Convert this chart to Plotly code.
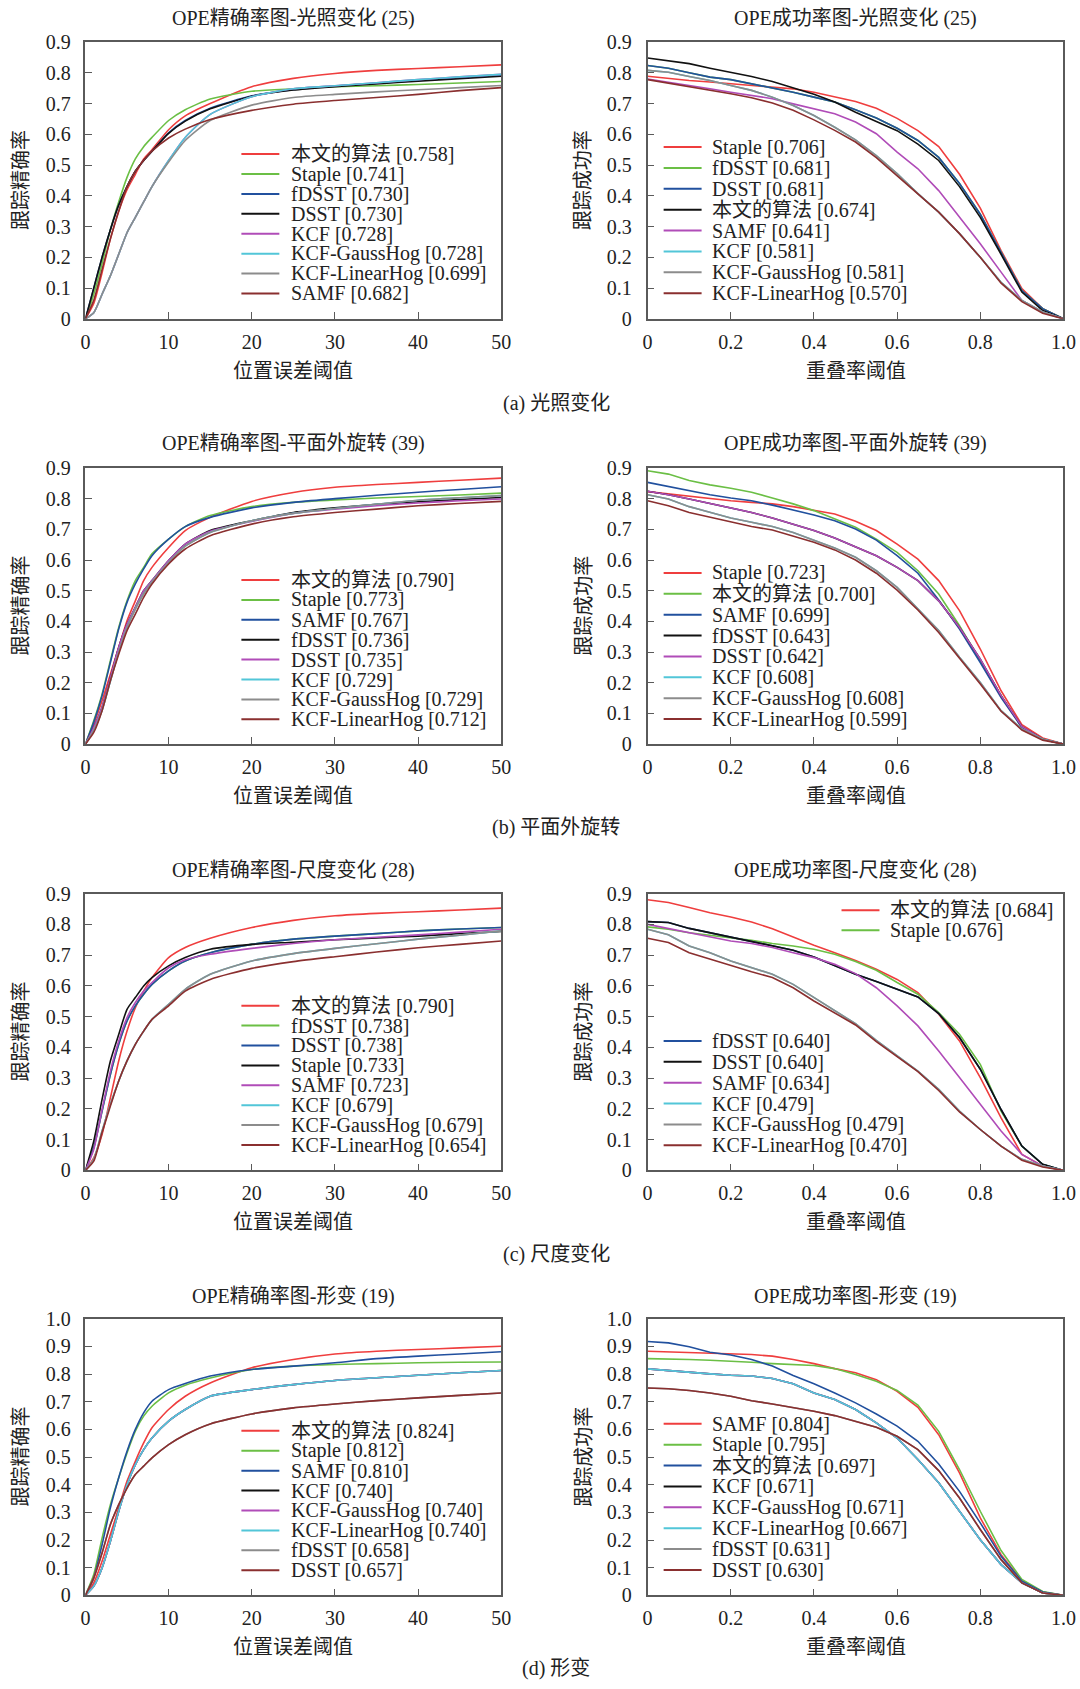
import plotly.graph_objects as go

# ---------------------------------------------------------------- data
# Location-error thresholds (precision plots) and overlap thresholds (success plots)
X_PRE = [0, 1, 2, 3, 4, 5, 6, 7, 8, 10, 12, 15, 20, 25, 30, 35, 40, 45, 50]
X_SUC = [0, 0.05, 0.1, 0.15, 0.2, 0.25, 0.3, 0.35, 0.4, 0.45, 0.5,
         0.55, 0.6, 0.65, 0.7, 0.75, 0.8, 0.85, 0.9, 0.95, 1.0]

# (a) illumination variation - precision
IV_PRE_LABELS = ["本文的算法", "Staple", "fDSST", "DSST", "KCF", "KCF-GaussHog", "KCF-LinearHog", "SAMF"]
IV_PRE_SCORES = ["0.758", "0.741", "0.730", "0.730", "0.728", "0.728", "0.699", "0.682"]
IV_PRE_KCF = [0, 0.02, 0.08, 0.14, 0.21, 0.28, 0.33, 0.38, 0.43, 0.515, 0.59, 0.665, 0.722, 0.748, 0.758, 0.768, 0.778, 0.787, 0.795]
IV_PRE_VALUES = [
    [0, 0.05, 0.15, 0.26, 0.35, 0.42, 0.47, 0.52, 0.55, 0.615, 0.66, 0.70, 0.755, 0.782, 0.798, 0.808, 0.814, 0.82, 0.826],
    [0, 0.08, 0.18, 0.29, 0.38, 0.46, 0.52, 0.56, 0.59, 0.645, 0.68, 0.715, 0.74, 0.748, 0.755, 0.758, 0.762, 0.767, 0.772],
    [0, 0.10, 0.20, 0.29, 0.37, 0.43, 0.48, 0.515, 0.545, 0.605, 0.645, 0.685, 0.725, 0.745, 0.757, 0.766, 0.775, 0.784, 0.792],
    [0, 0.10, 0.20, 0.29, 0.37, 0.43, 0.48, 0.515, 0.545, 0.603, 0.643, 0.683, 0.724, 0.744, 0.755, 0.764, 0.773, 0.781, 0.789],
    IV_PRE_KCF,
    IV_PRE_KCF,
    [0, 0.02, 0.08, 0.14, 0.21, 0.28, 0.33, 0.38, 0.43, 0.51, 0.58, 0.645, 0.695, 0.72, 0.73, 0.738, 0.745, 0.752, 0.759],
    [0, 0.06, 0.16, 0.26, 0.35, 0.43, 0.48, 0.515, 0.545, 0.588, 0.617, 0.648, 0.678, 0.698, 0.71, 0.72, 0.73, 0.742, 0.752],
]

# (a) illumination variation - success
IV_SUC_LABELS = ["Staple", "fDSST", "DSST", "本文的算法", "SAMF", "KCF", "KCF-GaussHog", "KCF-LinearHog"]
IV_SUC_SCORES = ["0.706", "0.681", "0.681", "0.674", "0.641", "0.581", "0.581", "0.570"]
IV_SUC_DSST = [0.824, 0.815, 0.80, 0.786, 0.778, 0.765, 0.751, 0.737, 0.721, 0.705, 0.68, 0.653, 0.62, 0.58, 0.525, 0.44, 0.34, 0.217, 0.092, 0.033, 0]
IV_SUC_KCF = [0.808, 0.802, 0.788, 0.775, 0.759, 0.743, 0.721, 0.694, 0.661, 0.623, 0.582, 0.531, 0.472, 0.407, 0.347, 0.277, 0.2, 0.119, 0.06, 0.022, 0]
IV_SUC_VALUES = [
    [0.789, 0.781, 0.775, 0.77, 0.765, 0.759, 0.754, 0.748, 0.737, 0.723, 0.707, 0.685, 0.652, 0.612, 0.56, 0.47, 0.36, 0.222, 0.098, 0.033, 0],
    IV_SUC_DSST,
    IV_SUC_DSST,
    [0.848, 0.84, 0.83, 0.815, 0.802, 0.788, 0.772, 0.751, 0.73, 0.705, 0.672, 0.642, 0.612, 0.568, 0.515, 0.43, 0.33, 0.21, 0.087, 0.027, 0],
    [0.78, 0.77, 0.759, 0.748, 0.737, 0.727, 0.716, 0.699, 0.683, 0.667, 0.64, 0.602, 0.542, 0.488, 0.417, 0.331, 0.244, 0.152, 0.06, 0.022, 0],
    IV_SUC_KCF,
    IV_SUC_KCF,
    [0.778, 0.767, 0.754, 0.743, 0.732, 0.719, 0.702, 0.678, 0.647, 0.613, 0.575, 0.524, 0.466, 0.407, 0.347, 0.277, 0.2, 0.116, 0.056, 0.018, 0],
]

# (b) out-of-plane rotation - precision
OPR_PRE_LABELS = ["本文的算法", "Staple", "SAMF", "fDSST", "DSST", "KCF", "KCF-GaussHog", "KCF-LinearHog"]
OPR_PRE_SCORES = ["0.790", "0.773", "0.767", "0.736", "0.735", "0.729", "0.729", "0.712"]
OPR_PRE_KCF = [0, 0.045, 0.11, 0.205, 0.30, 0.38, 0.44, 0.49, 0.528, 0.592, 0.645, 0.69, 0.728, 0.752, 0.768, 0.782, 0.795, 0.803, 0.81]
OPR_PRE_VALUES = [
    [0, 0.065, 0.141, 0.228, 0.315, 0.402, 0.467, 0.533, 0.576, 0.641, 0.696, 0.739, 0.791, 0.82, 0.837, 0.846, 0.853, 0.86, 0.867],
    [0, 0.076, 0.163, 0.272, 0.38, 0.467, 0.533, 0.576, 0.62, 0.668, 0.709, 0.745, 0.774, 0.788, 0.796, 0.802, 0.807, 0.812, 0.818],
    [0, 0.071, 0.158, 0.266, 0.375, 0.462, 0.522, 0.571, 0.614, 0.668, 0.709, 0.739, 0.77, 0.788, 0.80, 0.811, 0.821, 0.83, 0.839],
    [0, 0.054, 0.12, 0.217, 0.315, 0.391, 0.446, 0.50, 0.533, 0.598, 0.652, 0.696, 0.728, 0.755, 0.77, 0.782, 0.79, 0.797, 0.804],
    [0, 0.054, 0.12, 0.217, 0.315, 0.391, 0.446, 0.50, 0.533, 0.598, 0.652, 0.694, 0.726, 0.752, 0.766, 0.777, 0.786, 0.793, 0.799],
    OPR_PRE_KCF,
    OPR_PRE_KCF,
    [0, 0.038, 0.109, 0.207, 0.293, 0.37, 0.424, 0.478, 0.522, 0.587, 0.636, 0.679, 0.717, 0.741, 0.755, 0.766, 0.777, 0.784, 0.791],
]

# (b) out-of-plane rotation - success
OPR_SUC_LABELS = ["Staple", "本文的算法", "SAMF", "fDSST", "DSST", "KCF", "KCF-GaussHog", "KCF-LinearHog"]
OPR_SUC_SCORES = ["0.723", "0.700", "0.699", "0.643", "0.642", "0.608", "0.608", "0.599"]
OPR_SUC_DSST = [0.824, 0.813, 0.799, 0.785, 0.77, 0.755, 0.737, 0.717, 0.696, 0.672, 0.643, 0.614, 0.576, 0.533, 0.467, 0.38, 0.277, 0.158, 0.057, 0.016, 0]
OPR_SUC_KCF = [0.813, 0.799, 0.774, 0.755, 0.737, 0.723, 0.709, 0.69, 0.665, 0.639, 0.609, 0.565, 0.511, 0.44, 0.37, 0.283, 0.201, 0.109, 0.049, 0.016, 0]
OPR_SUC_VALUES = [
    [0.823, 0.815, 0.807, 0.799, 0.793, 0.788, 0.783, 0.774, 0.763, 0.75, 0.726, 0.696, 0.652, 0.603, 0.533, 0.435, 0.31, 0.174, 0.063, 0.02, 0],
    [0.891, 0.88, 0.859, 0.845, 0.834, 0.821, 0.802, 0.783, 0.761, 0.734, 0.707, 0.668, 0.625, 0.565, 0.489, 0.386, 0.272, 0.158, 0.054, 0.016, 0],
    [0.853, 0.839, 0.826, 0.813, 0.802, 0.793, 0.779, 0.763, 0.747, 0.728, 0.701, 0.665, 0.614, 0.557, 0.47, 0.375, 0.266, 0.152, 0.054, 0.016, 0],
    OPR_SUC_DSST,
    OPR_SUC_DSST,
    OPR_SUC_KCF,
    OPR_SUC_KCF,
    [0.793, 0.777, 0.755, 0.739, 0.723, 0.709, 0.698, 0.679, 0.658, 0.633, 0.60, 0.557, 0.502, 0.437, 0.364, 0.28, 0.196, 0.107, 0.046, 0.013, 0],
]

# (c) scale variation - precision
SV_PRE_LABELS = ["本文的算法", "fDSST", "DSST", "Staple", "SAMF", "KCF", "KCF-GaussHog", "KCF-LinearHog"]
SV_PRE_SCORES = ["0.790", "0.738", "0.738", "0.733", "0.723", "0.679", "0.679", "0.654"]
SV_PRE_DSST = [0, 0.074, 0.193, 0.312, 0.41, 0.486, 0.535, 0.573, 0.605, 0.649, 0.681, 0.708, 0.735, 0.752, 0.762, 0.77, 0.779, 0.785, 0.79]
SV_PRE_KCF = [0, 0.036, 0.128, 0.215, 0.291, 0.356, 0.41, 0.453, 0.491, 0.54, 0.589, 0.638, 0.681, 0.705, 0.722, 0.737, 0.752, 0.765, 0.779]
SV_PRE_VALUES = [
    [0, 0.041, 0.117, 0.236, 0.356, 0.453, 0.529, 0.583, 0.627, 0.692, 0.725, 0.755, 0.79, 0.813, 0.828, 0.836, 0.841, 0.847, 0.853],
    SV_PRE_DSST,
    SV_PRE_DSST,
    [0, 0.095, 0.231, 0.356, 0.442, 0.524, 0.562, 0.60, 0.627, 0.665, 0.692, 0.719, 0.735, 0.742, 0.75, 0.756, 0.762, 0.77, 0.777],
    [0, 0.068, 0.198, 0.323, 0.421, 0.497, 0.546, 0.583, 0.611, 0.659, 0.685, 0.703, 0.722, 0.738, 0.75, 0.758, 0.766, 0.775, 0.784],
    SV_PRE_KCF,
    SV_PRE_KCF,
    [0, 0.03, 0.123, 0.209, 0.291, 0.356, 0.41, 0.453, 0.491, 0.535, 0.583, 0.621, 0.657, 0.679, 0.695, 0.71, 0.724, 0.735, 0.746],
]

# (c) scale variation - success
SV_SUC_LABELS = ["本文的算法", "Staple", "fDSST", "DSST", "SAMF", "KCF", "KCF-GaussHog", "KCF-LinearHog"]
SV_SUC_SCORES = ["0.684", "0.676", "0.640", "0.640", "0.634", "0.479", "0.479", "0.470"]
SV_SUC_DSST = [0.809, 0.806, 0.787, 0.773, 0.759, 0.746, 0.732, 0.716, 0.694, 0.665, 0.638, 0.614, 0.589, 0.564, 0.51, 0.432, 0.329, 0.198, 0.079, 0.02, 0]
SV_SUC_KCF = [0.784, 0.766, 0.73, 0.708, 0.681, 0.659, 0.638, 0.605, 0.562, 0.521, 0.477, 0.423, 0.372, 0.323, 0.264, 0.193, 0.133, 0.079, 0.036, 0.014, 0]
SV_SUC_VALUES = [
    [0.88, 0.871, 0.855, 0.838, 0.824, 0.808, 0.786, 0.759, 0.732, 0.708, 0.683, 0.654, 0.621, 0.578, 0.508, 0.421, 0.302, 0.171, 0.052, 0.014, 0],
    [0.792, 0.784, 0.773, 0.765, 0.755, 0.748, 0.738, 0.73, 0.719, 0.703, 0.679, 0.651, 0.611, 0.573, 0.513, 0.443, 0.345, 0.193, 0.079, 0.02, 0],
    SV_SUC_DSST,
    SV_SUC_DSST,
    [0.80, 0.787, 0.773, 0.759, 0.746, 0.738, 0.725, 0.708, 0.692, 0.67, 0.64, 0.594, 0.535, 0.47, 0.388, 0.302, 0.215, 0.128, 0.052, 0.014, 0],
    SV_SUC_KCF,
    SV_SUC_KCF,
    [0.755, 0.741, 0.708, 0.687, 0.665, 0.646, 0.627, 0.594, 0.551, 0.513, 0.473, 0.419, 0.369, 0.321, 0.26, 0.19, 0.133, 0.079, 0.033, 0.011, 0],
]

# (d) deformation - precision
DEF_PRE_LABELS = ["本文的算法", "Staple", "SAMF", "KCF", "KCF-GaussHog", "KCF-LinearHog", "fDSST", "DSST"]
DEF_PRE_SCORES = ["0.824", "0.812", "0.810", "0.740", "0.740", "0.740", "0.658", "0.657"]
DEF_PRE_KCF = [0, 0.033, 0.099, 0.195, 0.304, 0.40, 0.473, 0.527, 0.569, 0.63, 0.672, 0.72, 0.744, 0.762, 0.777, 0.787, 0.796, 0.805, 0.813]
DEF_PRE_DSST = [0, 0.063, 0.153, 0.256, 0.328, 0.388, 0.437, 0.467, 0.497, 0.545, 0.581, 0.62, 0.656, 0.678, 0.692, 0.704, 0.714, 0.723, 0.732]
DEF_PRE_VALUES = [
    [0, 0.045, 0.123, 0.22, 0.316, 0.413, 0.485, 0.551, 0.606, 0.672, 0.72, 0.768, 0.823, 0.853, 0.873, 0.883, 0.889, 0.895, 0.901],
    [0, 0.075, 0.207, 0.328, 0.425, 0.515, 0.594, 0.648, 0.684, 0.732, 0.76, 0.786, 0.817, 0.829, 0.835, 0.838, 0.841, 0.843, 0.844],
    [0, 0.063, 0.183, 0.316, 0.425, 0.521, 0.60, 0.66, 0.702, 0.744, 0.766, 0.793, 0.817, 0.829, 0.841, 0.856, 0.865, 0.873, 0.881],
    DEF_PRE_KCF,
    DEF_PRE_KCF,
    DEF_PRE_KCF,
    DEF_PRE_DSST,
    DEF_PRE_DSST,
]

# (d) deformation - success
DEF_SUC_LABELS = ["SAMF", "Staple", "本文的算法", "KCF", "KCF-GaussHog", "KCF-LinearHog", "fDSST", "DSST"]
DEF_SUC_SCORES = ["0.804", "0.795", "0.697", "0.671", "0.671", "0.667", "0.631", "0.630"]
DEF_SUC_KCF = [0.819, 0.813, 0.805, 0.801, 0.796, 0.793, 0.784, 0.765, 0.732, 0.708, 0.672, 0.624, 0.569, 0.491, 0.407, 0.304, 0.201, 0.111, 0.045, 0.008, 0]
DEF_SUC_DSST = [0.75, 0.747, 0.741, 0.732, 0.72, 0.704, 0.692, 0.68, 0.666, 0.65, 0.63, 0.608, 0.575, 0.527, 0.451, 0.352, 0.238, 0.129, 0.045, 0.008, 0]
DEF_SUC_VALUES = [
    [0.883, 0.881, 0.877, 0.875, 0.874, 0.871, 0.865, 0.853, 0.838, 0.82, 0.805, 0.78, 0.738, 0.68, 0.581, 0.443, 0.28, 0.147, 0.053, 0.012, 0],
    [0.856, 0.855, 0.853, 0.85, 0.847, 0.843, 0.838, 0.835, 0.831, 0.82, 0.799, 0.774, 0.741, 0.688, 0.593, 0.455, 0.304, 0.162, 0.057, 0.014, 0],
    [0.918, 0.913, 0.899, 0.879, 0.869, 0.853, 0.829, 0.795, 0.765, 0.732, 0.696, 0.656, 0.612, 0.557, 0.475, 0.376, 0.262, 0.141, 0.051, 0.012, 0],
    DEF_SUC_KCF,
    DEF_SUC_KCF,
    DEF_SUC_KCF,
    DEF_SUC_DSST,
    DEF_SUC_DSST,
]

TITLES = [
    "OPE精确率图-光照变化 (25)", "OPE成功率图-光照变化 (25)",
    "OPE精确率图-平面外旋转 (39)", "OPE成功率图-平面外旋转 (39)",
    "OPE精确率图-尺度变化 (28)", "OPE成功率图-尺度变化 (28)",
    "OPE精确率图-形变 (19)", "OPE成功率图-形变 (19)",
]
CAPTIONS = ["(a) 光照变化", "(b) 平面外旋转", "(c) 尺度变化", "(d) 形变"]
PRE_XTITLE, PRE_YTITLE = "位置误差阈值", "跟踪精确率"
SUC_XTITLE, SUC_YTITLE = "重叠率阈值", "跟踪成功率"

PRE_XTICKS = [0, 10, 20, 30, 40, 50]
SUC_XTICKS = [0, 0.2, 0.4, 0.6, 0.8, 1.0]
SUC_XTICKTEXT = ["0", "0.2", "0.4", "0.6", "0.8", "1.0"]
Y9_TICKS = [0, 0.1, 0.2, 0.3, 0.4, 0.5, 0.6, 0.7, 0.8, 0.9]
Y9_TICKTEXT = ["0", "0.1", "0.2", "0.3", "0.4", "0.5", "0.6", "0.7", "0.8", "0.9"]
Y10_TICKS = Y9_TICKS + [1.0]
Y10_TICKTEXT = Y9_TICKTEXT + ["1.0"]

# line colours, in legend order
COLORS = ["#ef3e3e", "#6bbf45", "#21509e", "#111111", "#b04cb8", "#52c6d8", "#8c8c8c", "#8a2f2f"]

# ---------------------------------------------------------------- layout
W, H = 1080, 1689
FONT = "Liberation Serif, 'Noto Sans CJK SC', serif"
FS = 20
TXT = "#222222"
FRAME = "#5a5a5a"

# plot boxes in figure pixels
COL_PX = [(81.8, 504.7), (653.5, 1076.4)]
ROW_PX = [(31.5, 311.9), (463.0, 742.8), (894.3, 1174.7), (1325.1, 1605.2)]
TITLE_Y = [7.8, 438.4, 871.3, 1302.1]
CAPTION_Y = [397.8, 827.6, 1259.5, 1679.0]
CAPTION_X = 560.5
XTITLE_GAP = 52.7
YTITLE_GAP = 65.0


def fx(px):
    return px / W


def fy(py):
    return 1 - py / H


panels = [
    (X_PRE, IV_PRE_VALUES, IV_PRE_LABELS, IV_PRE_SCORES),
    (X_SUC, IV_SUC_VALUES, IV_SUC_LABELS, IV_SUC_SCORES),
    (X_PRE, OPR_PRE_VALUES, OPR_PRE_LABELS, OPR_PRE_SCORES),
    (X_SUC, OPR_SUC_VALUES, OPR_SUC_LABELS, OPR_SUC_SCORES),
    (X_PRE, SV_PRE_VALUES, SV_PRE_LABELS, SV_PRE_SCORES),
    (X_SUC, SV_SUC_VALUES, SV_SUC_LABELS, SV_SUC_SCORES),
    (X_PRE, DEF_PRE_VALUES, DEF_PRE_LABELS, DEF_PRE_SCORES),
    (X_SUC, DEF_SUC_VALUES, DEF_SUC_LABELS, DEF_SUC_SCORES),
]

# legend blocks: (line x0, line x1, text x, first row y, row step, item indices), px relative to plot box
LEGEND_PRE = [(158.6, 197.2, 207.4, 113.5, 20.17, range(8))]
LEGEND_SUC = [(16.3, 54.9, 63.0, 106.4, 21.14, range(8))]
LEGEND_SV_SUC = [(197.2, 235.8, 244.0, 16.8, 20.3, range(2)),
                 (16.3, 54.9, 63.0, 149.3, 21.14, range(2, 8))]

fig = go.Figure()
shapes, annotations = [], []

for k, (xs, series, labels, scores) in enumerate(panels):
    row, col = divmod(k, 2)
    x0, x1 = COL_PX[col]
    y0, y1 = ROW_PX[row]
    ax = "" if k == 0 else str(k + 1)
    is_pre = col == 0
    ymax = 1.0 if row == 3 else 0.9

    for i, ys in enumerate(series):
        fig.add_trace(go.Scatter(
            x=xs, y=ys, mode="lines", name=labels[i], showlegend=False,
            xaxis="x" + ax, yaxis="y" + ax,
            line=dict(color=COLORS[i], width=1.6,
                      shape="spline" if is_pre else "linear", smoothing=0.6),
            hoverinfo="skip",
        ))

    common = dict(showline=True, mirror=True, linecolor=FRAME, linewidth=1.5,
                  ticks="inside", ticklen=7, tickwidth=1.3, tickcolor=FRAME,
                  showgrid=False, zeroline=False,
                  tickfont=dict(family=FONT, size=FS, color=TXT))
    fig.layout["xaxis" + ax] = dict(
        common, domain=[fx(x0), fx(x1)], anchor="y" + ax,
        range=[0, 50] if is_pre else [0, 1.0],
        tickvals=PRE_XTICKS if is_pre else SUC_XTICKS,
        ticktext=[str(v) for v in PRE_XTICKS] if is_pre else SUC_XTICKTEXT,
        ticklabelstandoff=4,
    )
    fig.layout["yaxis" + ax] = dict(
        common, domain=[fy(y1), fy(y0)], anchor="x" + ax,
        range=[0, ymax],
        tickvals=Y10_TICKS if row == 3 else Y9_TICKS,
        ticktext=Y10_TICKTEXT if row == 3 else Y9_TICKTEXT,
        ticklabelstandoff=9 if is_pre else 10,
    )

    cx = (x0 + x1) / 2
    annotations.append(dict(text=TITLES[k], x=fx(cx), y=fy(TITLE_Y[row]), xref="paper", yref="paper",
                            showarrow=False, xanchor="center", yanchor="middle",
                            font=dict(family=FONT, size=FS, color=TXT)))
    annotations.append(dict(text=PRE_XTITLE if is_pre else SUC_XTITLE, x=fx(cx), y=fy(y1 + XTITLE_GAP),
                            xref="paper", yref="paper", showarrow=False,
                            xanchor="center", yanchor="middle",
                            font=dict(family=FONT, size=FS, color=TXT)))
    annotations.append(dict(text=PRE_YTITLE if is_pre else SUC_YTITLE, x=fx(x0 - YTITLE_GAP),
                            y=fy((y0 + y1) / 2), xref="paper", yref="paper", showarrow=False,
                            textangle=-90, xanchor="center", yanchor="middle",
                            font=dict(family=FONT, size=FS, color=TXT)))

    blocks = LEGEND_PRE if is_pre else (LEGEND_SV_SUC if k == 5 else LEGEND_SUC)
    for lx0, lx1, tx, ry, step, idx in blocks:
        for j, i in enumerate(idx):
            yy = y0 + ry + j * step
            shapes.append(dict(type="line", xref="paper", yref="paper",
                               x0=fx(x0 + lx0), x1=fx(x0 + lx1), y0=fy(yy), y1=fy(yy),
                               line=dict(color=COLORS[i], width=2)))
            annotations.append(dict(text=f"{labels[i]} [{scores[i]}]", x=fx(x0 + tx), y=fy(yy),
                                    xref="paper", yref="paper", showarrow=False,
                                    xanchor="left", yanchor="middle",
                                    font=dict(family=FONT, size=FS, color=TXT)))

for r, cap in enumerate(CAPTIONS):
    annotations.append(dict(text=cap, x=fx(CAPTION_X), y=fy(CAPTION_Y[r]), xref="paper", yref="paper",
                            showarrow=False, xanchor="center", yanchor="middle",
                            font=dict(family=FONT, size=FS, color=TXT)))

fig.update_layout(
    width=W, height=H, autosize=False,
    margin=dict(l=0, r=0, t=0, b=0),
    paper_bgcolor="white", plot_bgcolor="white",
    showlegend=False,
    shapes=shapes, annotations=annotations,
    font=dict(family=FONT, size=FS, color=TXT),
)

fig.write_html("out.html")
